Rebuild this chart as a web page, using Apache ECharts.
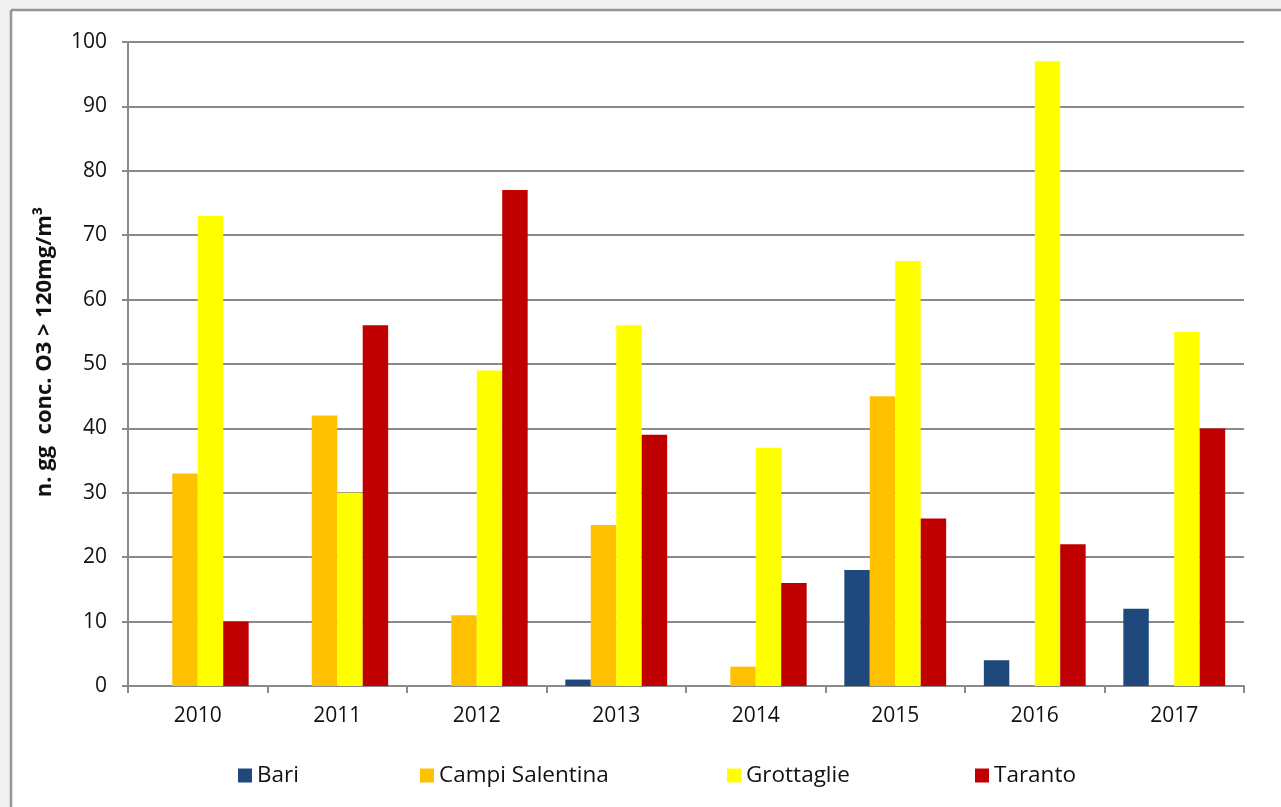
<!DOCTYPE html>
<html>
<head>
<meta charset="utf-8">
<script src="https://cdn.jsdelivr.net/npm/echarts@6/dist/echarts.min.js"></script>
<style>
html,body{margin:0;padding:0;background:#f0f0f0;}
#c{width:1281px;height:807px;}
</style>
</head>
<body>
<div id="c"></div>
<script>
const years = ['2010','2011','2012','2013','2014','2015','2016','2017'];
const bari = [0, 0, 0, 1, 0, 18, 4, 12];
const campiSalentina = [33, 42, 11, 25, 3, 45, 0, 0];
const grottaglie = [73, 30, 49, 56, 37, 66, 97, 55];
const taranto = [10, 56, 77, 39, 16, 26, 22, 40];
const seriesNames = ['Bari', 'Campi Salentina', 'Grottaglie', 'Taranto'];
const seriesColors = ['#1f497d', '#ffc000', '#ffff00', '#c00000'];
const seriesData = [bari, campiSalentina, grottaglie, taranto];
const yAxisTitle = 'n. gg  conc. O3 > 120mg/m³';

const FONT = 'Open Sans';
const chart = echarts.init(document.getElementById('c'), null, {renderer: 'canvas'});

const legendLefts = [238, 420, 727, 975];
const legends = seriesNames.map((n, i) => ({
  data: [n],
  left: legendLefts[i],
  top: 764,
  padding: 0,
  itemWidth: 14,
  itemHeight: 14,
  itemGap: 0,
  icon: 'rect',
  textStyle: {fontFamily: FONT, fontSize: 22.5, color: '#111'}
}));

chart.setOption({
  backgroundColor: '#f0f0f0',
  animation: false,
  textStyle: {fontFamily: FONT},
  graphic: [
    {type: 'rect', z: -10, shape: {x: 11, y: 10, width: 1300, height: 900}, style: {fill: '#ffffff'}},
    {type: 'line', z: -9, shape: {x1: 11, y1: 10, x2: 1281, y2: 10}, style: {stroke: '#959595', lineWidth: 2.5}},
    {type: 'line', z: -9, shape: {x1: 11, y1: 10, x2: 11, y2: 807}, style: {stroke: '#959595', lineWidth: 2.5}},
    {type: 'text', x: 45, y: 352, rotation: Math.PI / 2,
     style: {text: yAxisTitle, font: 'bold 22px "Open Sans"', fill: '#111', align: 'center', verticalAlign: 'middle'}}
  ],
  legend: legends,
  grid: {left: 128, top: 42, right: 37, bottom: 121},
  xAxis: {
    type: 'category',
    data: years,
    axisLine: {lineStyle: {color: '#8a8a8a', width: 2}},
    axisTick: {show: true, length: 7, lineStyle: {color: '#8a8a8a', width: 2}},
    axisLabel: {fontFamily: FONT, fontSize: 21, color: '#111', margin: 20}
  },
  yAxis: {
    type: 'value',
    min: 0,
    max: 100,
    interval: 10,
    axisLine: {show: true, lineStyle: {color: '#8a8a8a', width: 2}},
    axisTick: {show: true, length: 6, lineStyle: {color: '#8a8a8a', width: 2}},
    axisLabel: {fontFamily: FONT, fontSize: 21, color: '#111', margin: 21},
    splitLine: {show: true, lineStyle: {color: '#8a8a8a', width: 2}}
  },
  series: seriesNames.map((n, i) => ({
    name: n,
    type: 'bar',
    data: seriesData[i],
    barGap: '0%',
    barCategoryGap: '27%',
    itemStyle: {color: seriesColors[i], borderWidth: 0}
  }))
});
</script>
</body>
</html>
